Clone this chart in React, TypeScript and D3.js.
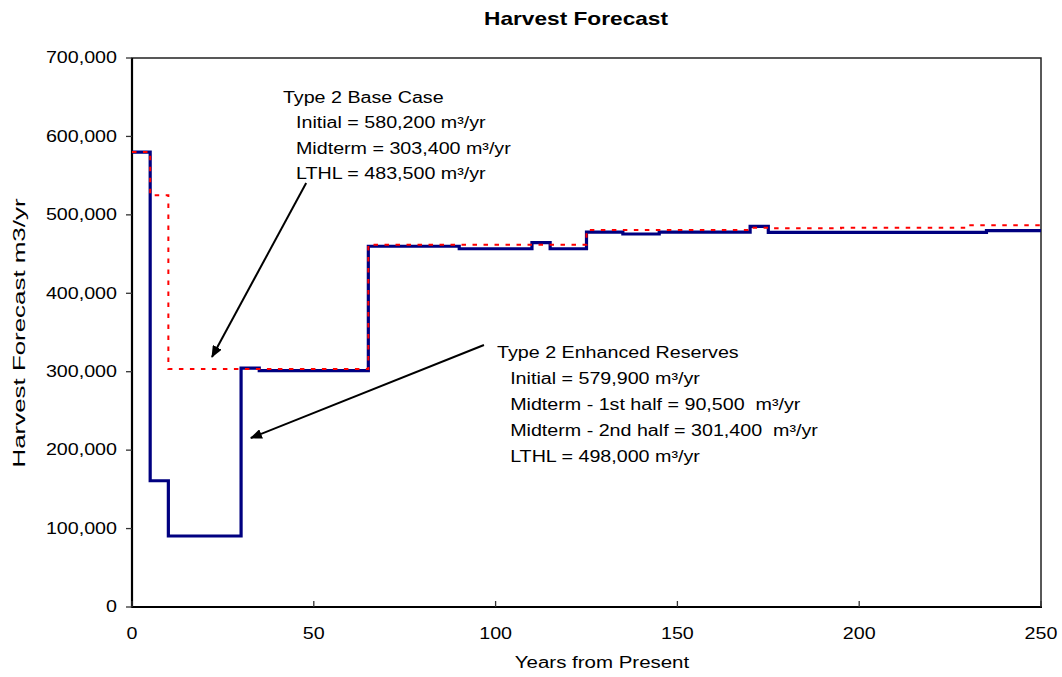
import React from "react";
import * as d3 from "d3";

// Step series (value holds from the given year until the next year)
const enhancedYears = [0, 5, 10, 30, 35, 65, 90, 110, 115, 125, 135, 145, 170, 175, 235, 250];
const enhancedValues = [579900, 161000, 90500, 304500, 301400, 460000, 456800, 464500, 456800, 478100, 475600, 478100, 485400, 477700, 479800, 479800];

const baseYears = [0, 5, 10, 65, 125, 170, 175, 195, 230, 250];
const baseValues = [580200, 525000, 303400, 462000, 480700, 483600, 483000, 483500, 486600, 486600];

const xTicks = [0, 50, 100, 150, 200, 250];
const yTicks = [0, 100000, 200000, 300000, 400000, 500000, 600000, 700000];

const titleText = "Harvest Forecast";
const xAxisTitle = "Years from Present";
const yAxisTitle = "Harvest Forecast m3/yr";

const baseCaseLines = [
  "Type 2 Base Case",
  "Initial = 580,200 m³/yr",
  "Midterm = 303,400 m³/yr",
  "LTHL = 483,500 m³/yr",
];
const enhancedLines = [
  "Type 2 Enhanced Reserves",
  "Initial = 579,900 m³/yr",
  "Midterm - 1st half = 90,500  m³/yr",
  "Midterm - 2nd half = 301,400  m³/yr",
  "LTHL = 498,000 m³/yr",
];

// annotation anchors in data units
const baseNote = { x: 41.5, indentX: 45.1, y: 650000, step: 32500 };
const enhancedNote = { x: 100.4, indentX: 104.0, y: 324000, step: 33200 };
const baseArrow = { x1: 47.9, y1: 540600, x2: 22.0, y2: 318800 };
const enhancedArrow = { x1: 96.8, y1: 334000, x2: 32.7, y2: 215500 };

const W = 1062;
const H = 677;
const FONT = "'Liberation Sans', Arial, Helvetica, sans-serif";
const SX = 1.23;

function SText(props: {
  x: number;
  y: number;
  text: string;
  anchor?: string;
  size?: number;
  weight?: string;
  sx?: number;
  rotate?: number;
}) {
  const { x, y, text, anchor = "start", size = 16, weight = "normal", sx = SX, rotate = 0 } = props;
  return (
    <text
      transform={`translate(${x},${y}) rotate(${rotate}) scale(${sx},1)`}
      textAnchor={anchor}
      dominantBaseline="central"
      fontFamily={FONT}
      fontSize={size}
      fontWeight={weight}
      fill="#000"
      style={{ whiteSpace: "pre" }}
    >
      {text}
    </text>
  );
}

export default function App() {
  const x = d3.scaleLinear().domain([0, 250]).range([132, 1041]);
  const y = d3.scaleLinear().domain([0, 700000]).range([607, 58]);
  const fmt = d3.format(",");

  const line = d3
    .line<[number, number]>()
    .x((d) => x(d[0]))
    .y((d) => y(d[1]))
    .curve(d3.curveStepAfter);

  const enhanced = line(enhancedYears.map((yr, i) => [yr, enhancedValues[i]] as [number, number])) || "";
  const base = line(baseYears.map((yr, i) => [yr, baseValues[i]] as [number, number])) || "";

  const [x0, x1] = x.range();
  const [y0, y1] = y.range();

  return (
    <svg
      width={W}
      height={H}
      style={{ position: "absolute", left: 0, top: 0, background: "#fff" }}
    >
      <defs>
        <marker
          id="arrow"
          viewBox="0 0 12 10"
          refX="11"
          refY="5"
          markerWidth="12"
          markerHeight="10"
          markerUnits="userSpaceOnUse"
          orient="auto"
        >
          <path d="M0,0 L12,5 L0,10 Z" fill="#000" />
        </marker>
      </defs>
      <rect x={0} y={0} width={W} height={H} fill="#fff" />

      <SText x={576} y={18} text={titleText} anchor="middle" size={18} weight="bold" sx={1.26} />

      {/* plot frame */}
      <rect x={x0} y={y1} width={x1 - x0} height={y0 - y1} fill="none" stroke="#222" strokeWidth={1.5} />
      <line x1={x0} x2={x0} y1={y1} y2={y0 + 1} stroke="#000" strokeWidth={2.2} />
      <line x1={x0 - 1} x2={x1 + 1} y1={y0} y2={y0} stroke="#000" strokeWidth={2.2} />

      {/* y ticks */}
      {yTicks.map((t) => (
        <g key={"y" + t}>
          <line x1={x0 - 6} x2={x0} y1={y(t)} y2={y(t)} stroke="#333" strokeWidth={1.3} />
          <SText x={x0 - 15} y={y(t)} text={fmt(t)} anchor="end" />
        </g>
      ))}

      {/* x ticks */}
      {xTicks.map((t) => (
        <g key={"x" + t}>
          <line x1={x(t)} x2={x(t)} y1={y0} y2={y0 - 6} stroke="#333" strokeWidth={1.3} />
          <SText x={x(t)} y={634} text={String(t)} anchor="middle" />
        </g>
      ))}

      <SText x={602} y={662} text={xAxisTitle} anchor="middle" sx={1.28} />
      <SText x={20} y={333} text={yAxisTitle} anchor="middle" rotate={-90} sx={1.62} />

      {/* series */}
      <path d={enhanced} fill="none" stroke="#000080" strokeWidth={3.2} strokeLinejoin="miter" />
      <path d={base} fill="none" stroke="#ff0000" strokeWidth={2} strokeDasharray="4.5 6.5" />

      {/* annotations */}
      <line
        x1={x(baseArrow.x1)}
        y1={y(baseArrow.y1)}
        x2={x(baseArrow.x2)}
        y2={y(baseArrow.y2)}
        stroke="#000"
        strokeWidth={2}
        markerEnd="url(#arrow)"
      />
      <line
        x1={x(enhancedArrow.x1)}
        y1={y(enhancedArrow.y1)}
        x2={x(enhancedArrow.x2)}
        y2={y(enhancedArrow.y2)}
        stroke="#000"
        strokeWidth={2}
        markerEnd="url(#arrow)"
      />

      {baseCaseLines.map((t, i) => (
        <SText
          key={"b" + i}
          x={x(i === 0 ? baseNote.x : baseNote.indentX)}
          y={y(baseNote.y - i * baseNote.step)}
          text={t}
        />
      ))}
      {enhancedLines.map((t, i) => (
        <SText
          key={"e" + i}
          x={x(i === 0 ? enhancedNote.x : enhancedNote.indentX)}
          y={y(enhancedNote.y - i * enhancedNote.step)}
          text={t}
        />
      ))}
    </svg>
  );
}
